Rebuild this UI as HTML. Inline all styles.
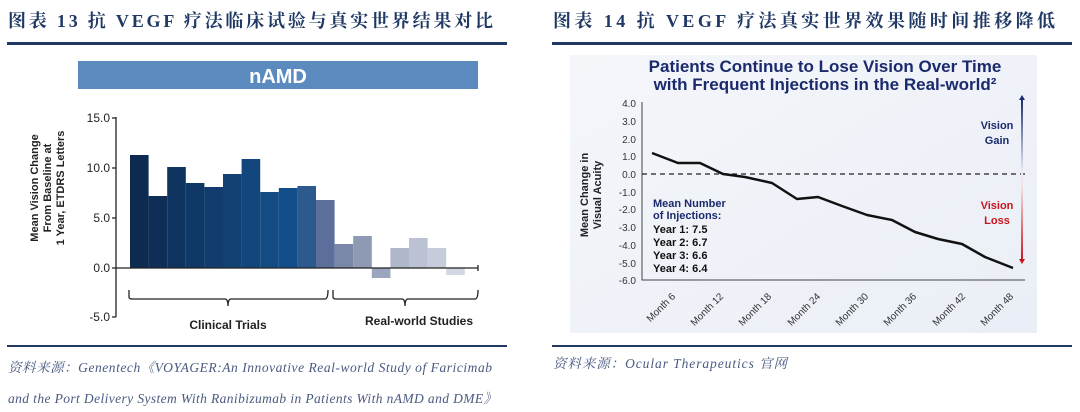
<!DOCTYPE html>
<html><head><meta charset="utf-8"><style>
html,body{margin:0;padding:0;background:#fff;}
svg{display:block;}
</style></head><body>
<svg width="1080" height="412" viewBox="0 0 1080 412" xmlns="http://www.w3.org/2000/svg">
<defs>
<linearGradient id="bg" x1="0" y1="0" x2="1" y2="1"><stop offset="0" stop-color="#f4f6fa"/><stop offset="1" stop-color="#eaeef6"/></linearGradient>
<linearGradient id="ag" x1="0" y1="0" x2="0" y2="1"><stop offset="0" stop-color="#1a2a6c"/><stop offset="0.45" stop-color="#e8ecf5"/><stop offset="0.55" stop-color="#f5e0e0"/><stop offset="1" stop-color="#c8141c"/></linearGradient>
</defs>
<g font-family="'Liberation Serif','Noto Serif CJK SC',serif" font-weight="bold" fill="#1f3864" font-size="18">
<text x="8" y="27" textLength="485" lengthAdjust="spacing">图表 13   抗 VEGF 疗法临床试验与真实世界结果对比</text>
<text x="553" y="27" textLength="502" lengthAdjust="spacing">图表 14   抗 VEGF 疗法真实世界效果随时间推移降低</text>
</g>
<rect x="7" y="42" width="500" height="3" fill="#1f3864"/>
<rect x="552" y="42" width="520" height="3" fill="#1f3864"/>
<rect x="7" y="345" width="500" height="2" fill="#1f3864"/>
<rect x="552" y="345" width="520" height="2" fill="#1f3864"/>
<g font-family="'Liberation Serif','Noto Serif CJK SC',serif" font-style="italic" fill="#4a5a80" font-size="13.5">
<text x="8" y="372" textLength="484" lengthAdjust="spacing">资料来源：Genentech《VOYAGER:An Innovative Real-world Study of Faricimab</text>
<text x="8" y="403" textLength="489" lengthAdjust="spacing">and the Port Delivery System With Ranibizumab in Patients With nAMD and DME》</text>
<text x="553" y="368" textLength="234" lengthAdjust="spacing">资料来源：Ocular Therapeutics 官网</text>
</g>
<!-- left chart -->
<rect x="78" y="61" width="400" height="28" fill="#5b8abf"/>
<text x="278" y="83" text-anchor="middle" font-family="'Liberation Sans',sans-serif" font-weight="bold" font-size="20" fill="#fff">nAMD</text>
<g font-family="'Liberation Sans',sans-serif" font-size="12" fill="#222">
<text x="110" y="122" text-anchor="end">15.0</text>
<text x="110" y="172" text-anchor="end">10.0</text>
<text x="110" y="222" text-anchor="end">5.0</text>
<text x="110" y="272" text-anchor="end">0.0</text>
<text x="110" y="321" text-anchor="end">-5.0</text>
</g>
<text transform="translate(48,188) rotate(-90)" text-anchor="middle" font-family="'Liberation Sans',sans-serif" font-weight="bold" font-size="11" fill="#222"><tspan x="0" y="-10">Mean Vision Change</tspan><tspan x="0" y="3">From Baseline at</tspan><tspan x="0" y="16">1 Year, ETDRS Letters</tspan></text>
<g>
<rect x="130" y="155" width="18.6" height="113" fill="#0d2a50"/>
<rect x="148.6" y="196" width="18.6" height="72" fill="#0e2e57"/>
<rect x="167.2" y="167" width="18.6" height="101" fill="#0f335f"/>
<rect x="185.8" y="183" width="18.6" height="85" fill="#103866"/>
<rect x="204.4" y="187" width="18.6" height="81" fill="#113c6d"/>
<rect x="223" y="174" width="18.6" height="94" fill="#124274"/>
<rect x="241.6" y="159" width="18.6" height="109" fill="#12467c"/>
<rect x="260.2" y="192" width="18.6" height="76" fill="#134b82"/>
<rect x="278.8" y="188" width="18.6" height="80" fill="#124f8a"/>
<rect x="297.4" y="186" width="18.6" height="82" fill="#2d5a8e"/>
<rect x="316" y="200" width="18.6" height="68" fill="#5c6f9a"/>
<rect x="334.6" y="244" width="18.6" height="24" fill="#7b87a8"/>
<rect x="353.2" y="236" width="18.6" height="32" fill="#8e99b4"/>
<rect x="371.8" y="268" width="18.6" height="10" fill="#9aa5bf"/>
<rect x="390.4" y="248" width="18.6" height="20" fill="#afb7cb"/>
<rect x="409" y="238" width="18.6" height="30" fill="#bbc2d4"/>
<rect x="427.6" y="248" width="18.6" height="20" fill="#c7ccda"/>
<rect x="446.2" y="268" width="18.6" height="7" fill="#d3d7e2"/>
</g>
<g stroke="#222" stroke-width="1.3" fill="none">
<path d="M116 117 V317 M112 118 H116 M112 168 H116 M112 218 H116 M112 268 H478 M112 317 H116 M478 265 V271"/>
<path d="M129 290 V297 Q129 299 132 299 H225 Q228 299 228 306 Q228 299 231 299 H325 Q328 299 328 290"/>
<path d="M333 290 V297 Q333 299 336 299 H402 Q405 299 405 306 Q405 299 408 299 H475 Q478 299 478 290"/>
</g>
<g font-family="'Liberation Sans',sans-serif" font-weight="bold" font-size="12" fill="#222">
<text x="228" y="329" text-anchor="middle">Clinical Trials</text>
<text x="419" y="325" text-anchor="middle">Real-world Studies</text>
</g>
<!-- right chart -->
<rect x="570" y="55" width="467" height="278" fill="url(#bg)"/>
<g font-family="'Liberation Sans',sans-serif" font-weight="bold" font-size="17" fill="#1a2a6c" text-anchor="middle">
<text x="825" y="72">Patients Continue to Lose Vision Over Time</text>
<text x="825" y="90">with Frequent Injections in the Real-world²</text>
</g>
<g font-family="'Liberation Sans',sans-serif" font-size="10" fill="#333" text-anchor="end">
<text x="636" y="107">4.0</text><text x="636" y="125">3.0</text><text x="636" y="143">2.0</text><text x="636" y="160">1.0</text><text x="636" y="178">0.0</text><text x="636" y="196">-1.0</text><text x="636" y="213">-2.0</text><text x="636" y="231">-3.0</text><text x="636" y="249">-4.0</text><text x="636" y="267">-5.0</text><text x="636" y="284">-6.0</text>
</g>
<text transform="translate(590,195) rotate(-90)" text-anchor="middle" font-family="'Liberation Sans',sans-serif" font-weight="bold" font-size="11" fill="#222"><tspan x="0" y="-2">Mean Change in</tspan><tspan x="0" y="11">Visual Acuity</tspan></text>
<path d="M642 102 V280 H1025" stroke="#444" stroke-width="1" fill="none"/>
<path d="M642 174 H1025" stroke="#222" stroke-width="1.2" stroke-dasharray="5,4"/>
<polyline fill="none" stroke="#111" stroke-width="2.5" stroke-linejoin="round" points="652,153 678,163 700,163 723,174 745,177 772,183 797,199 818,197 842,206 867,215 892,220 915,232 938,239 962,244 985,257 1013,268"/>
<g font-family="'Liberation Sans',sans-serif" font-size="10" fill="#333" text-anchor="end">
<text transform="translate(676,297) rotate(-45)">Month 6</text>
<text transform="translate(724,297) rotate(-45)">Month 12</text>
<text transform="translate(772,297) rotate(-45)">Month 18</text>
<text transform="translate(821,297) rotate(-45)">Month 24</text>
<text transform="translate(869,297) rotate(-45)">Month 30</text>
<text transform="translate(917,297) rotate(-45)">Month 36</text>
<text transform="translate(966,297) rotate(-45)">Month 42</text>
<text transform="translate(1014,297) rotate(-45)">Month 48</text>
</g>
<g font-family="'Liberation Sans',sans-serif" font-weight="bold" font-size="11">
<text x="653" y="207" fill="#1a2a6c">Mean Number</text>
<text x="653" y="219" fill="#1a2a6c">of Injections:</text>
<text x="653" y="233" fill="#111">Year 1: 7.5</text>
<text x="653" y="246" fill="#111">Year 2: 6.7</text>
<text x="653" y="259" fill="#111">Year 3: 6.6</text>
<text x="653" y="272" fill="#111">Year 4: 6.4</text>
</g>
<g font-family="'Liberation Sans',sans-serif" font-weight="bold" font-size="11" text-anchor="middle">
<text x="997" y="129" fill="#1a2a6c">Vision</text><text x="997" y="144" fill="#1a2a6c">Gain</text>
<text x="997" y="209" fill="#c8141c">Vision</text><text x="997" y="224" fill="#c8141c">Loss</text>
</g>
<rect x="1021" y="98" width="2" height="163" fill="url(#ag)"/>
<path d="M1019 100 L1022 95 L1025 100 Z" fill="#1a2a6c"/>
<path d="M1019 259 L1022 264 L1025 259 Z" fill="#c8141c"/>
</svg>
</body></html>
